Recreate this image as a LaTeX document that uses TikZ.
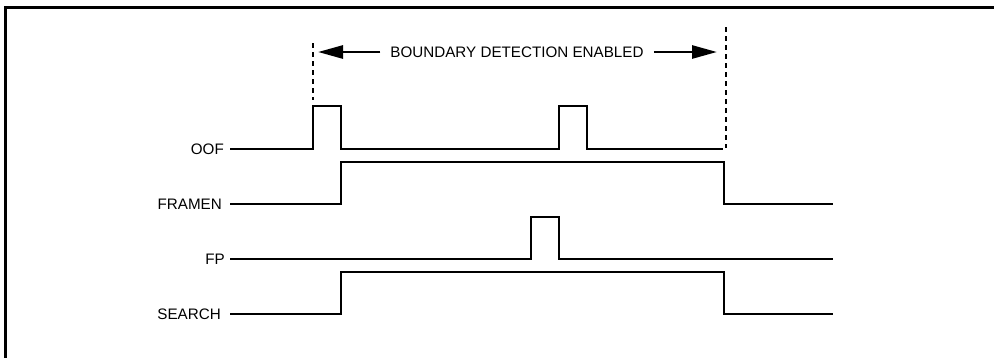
\documentclass[tikz,border=0pt]{standalone}
\usepackage{fontspec}
\setmainfont{Liberation Sans}
\usetikzlibrary{arrows.meta,positioning,calc}

\begin{document}
\begin{tikzpicture}[x=1pt,y=-1pt,
    sig/.style={line width=2.7pt},
    lbl/.style={anchor=east,inner sep=0pt,font=\fontsize{15.2}{18}\selectfont},
    marker/.style={line width=2.8pt,dash pattern=on 5pt off 4pt},
    arr/.style={line width=2.7pt,-{Triangle[length=25pt,width=13pt]}}]
    \clip (0,0) rectangle (994,357);
    % frame (only top and left edges show)
    \draw[line width=3pt] (1000,7) -- (5,7) -- (5,365);

    % signal names
    \node[lbl] (oof) at (224,149) {OOF};
    \node[lbl] (framen) at (222,204) {FRAMEN};
    \node[lbl] (fp) at (225,259) {FP};
    \node[lbl] (search) at (221,314) {SEARCH};

    % waveforms
    \draw[sig] (230,149) -- (313,149) -- (313,106) -- (341,106) -- (341,149)
        -- (559,149) -- (559,106) -- (587,106) -- (587,149) -- (723,149);
    \draw[sig] (230,204) -- (341,204) -- (341,162) -- (724,162) -- (724,204) -- (833,204);
    \draw[sig] (230,259) -- (531,259) -- (531,217) -- (559,217) -- (559,259) -- (833,259);
    \draw[sig] (230,314) -- (341,314) -- (341,272) -- (724,272) -- (724,314) -- (833,314);

    % detection window
    \coordinate (wl) at (313,43);
    \coordinate (wr) at (726,27);
    \draw[marker] (wl) -- (313,100);
    \draw[marker] (wr) -- (726,148);
    \node[lbl,anchor=center] (bde) at (517,52) {BOUNDARY DETECTION ENABLED};
    \draw[arr] ($(bde.west)+(-10,0)$) -- (318,52);
    \draw[arr] ($(bde.east)+(10,0)$) -- (717,52);
\end{tikzpicture}
\end{document}
